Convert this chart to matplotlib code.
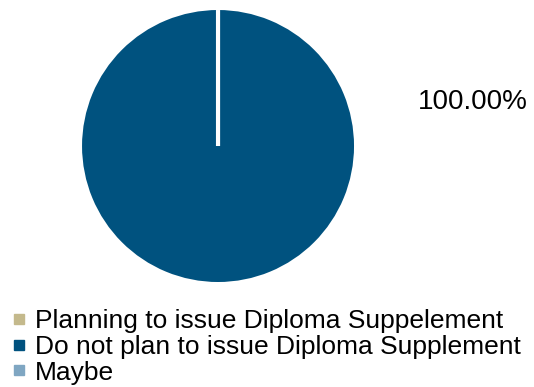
import matplotlib.pyplot as plt
from matplotlib.lines import Line2D

plt.rcParams['font.family'] = ['Liberation Sans', 'DejaVu Sans']

labels = ['Planning to issue Diploma Suppelement',
          'Do not plan to issue Diploma Supplement',
          'Maybe']
values = [0, 100, 0]
colors = ['#c4b98c', '#00527f', '#7fa6c2']

fig = plt.figure(figsize=(5.34, 3.87), dpi=100)
ax = fig.add_axes([0.1536, 0.2713, 0.5094, 0.7028])

wedges, _ = ax.pie(values, colors=colors, startangle=90, counterclock=False,
                   wedgeprops=dict(edgecolor='white', linewidth=3))
# full-circle wedge: hide its own edge (it would draw a seam to the right)
for w, v in zip(wedges, values):
    if v == sum(values):
        w.set_linewidth(0)
ax.set_xlim(-1, 1)
ax.set_ylim(-1, 1)

# percentage label, placed to the right of the pie
total = sum(values)
for v in values:
    if v > 0:
        fig.text(473 / 534, 1 - 102 / 387, '{:.2f}%'.format(v / total * 100),
                 ha='center', va='center', fontsize=20)

handles = [Line2D([], [], marker='s', linestyle='', markersize=6.5, color=c) for c in colors]
fig.legend(handles, labels, loc='upper left', bbox_to_anchor=(0.0203, 0.201),
           frameon=False, fontsize=19, handlelength=0.6, handletextpad=0.3,
           labelspacing=0.065, borderpad=0, borderaxespad=0)

fig.savefig('out.png', dpi=100)
